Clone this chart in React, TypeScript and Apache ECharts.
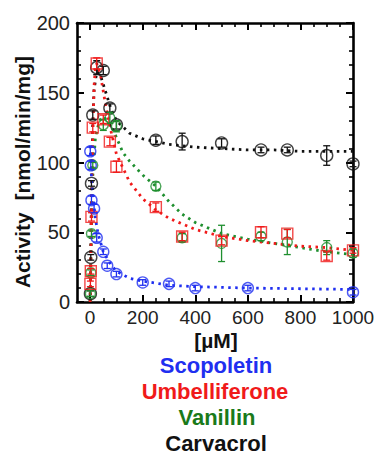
import React, { useEffect, useRef } from "react";
import * as echarts from "echarts";

// ---- tick values ----
const xMajorTicks = [0, 200, 400, 600, 800, 1000];
const yMajorTicks = [0, 50, 100, 150, 200];

// ---- legend / axis texts ----
const yTitle = "Activity  [nmol/min/mg]";
const xTitle = "[µM]";
const names = ["Scopoletin", "Umbelliferone", "Vanillin", "Carvacrol"];

// ---- Scopoletin (blue) ----
const blueX = [0.5, 2.5, 5, 15, 25, 50, 65, 100, 200, 300, 400, 600, 1000];
const blueY = [108, 98, 73, 67, 46, 36, 26, 20, 14, 13, 10, 10, 7];
const blueErr = [3, 3, 3, 3, 3, 2, 2, 2, 2, 2, 2, 2, 2];
const blueFitX = [0, 2, 5, 10, 20, 30, 50, 75, 100, 150, 200, 300, 400, 600, 800, 1000];
const blueFitY = [112, 102, 90, 77, 60, 49, 36, 28, 22, 17, 15, 12, 11, 10, 9.5, 9];

// ---- Umbelliferone (red) ----
const redX = [1, 2.5, 5, 10, 25, 50, 75, 100, 250, 350, 500, 650, 750, 900, 1000];
const redY = [13, 22, 61, 125, 171, 131, 115, 97, 68, 47, 44, 50, 49, 33, 37];
const redErr = [2, 2, 3, 3, 4, 3, 3, 4, 3, 3, 3, 4, 3, 3, 2];
const redFitX = [0, 2.5, 5, 10, 15, 20, 25, 40, 60, 80, 100, 150, 200, 250, 300, 400, 500, 600, 700, 800, 900, 1000];
const redFitY = [0, 30, 62, 120, 155, 168, 171, 162, 140, 122, 106, 86, 74, 66, 60, 52, 47, 44, 42, 40, 39, 37];

// ---- Vanillin (green) ----
const greenX = [1, 2.5, 5, 10, 50, 75, 100, 250, 350, 500, 650, 750, 900, 1000];
const greenY = [6, 21, 49, 98, 127, 132, 126, 83, 46, 42, 47, 43, 39, 35];
const greenErr = [2, 2, 2, 2, 4, 4, 4, 3, 3, 13, 3, 9, 5, 3];
const greenFitX = [0, 2.5, 5, 10, 20, 35, 50, 75, 100, 125, 150, 200, 250, 300, 350, 400, 500, 600, 700, 800, 900, 1000];
const greenFitY = [0, 25, 50, 90, 118, 130, 133, 128, 118, 107, 101, 91, 83, 72, 63, 57, 49, 45, 42, 39, 36, 34];

// ---- Carvacrol (black) ----
const blackX = [1, 2.5, 5, 10, 25, 50, 75, 100, 250, 350, 500, 650, 750, 900, 1000];
const blackY = [6, 32, 85, 134, 168, 166, 139, 127, 116, 115, 114, 109, 109, 105, 99];
const blackErr = [2, 2, 2, 3, 5, 3, 3, 3, 3, 6, 3, 2, 2, 7, 2];
const blackFitX = [0, 2.5, 5, 10, 15, 25, 40, 60, 80, 100, 150, 200, 300, 400, 500, 600, 700, 800, 900, 1000];
const blackFitY = [0, 40, 80, 130, 152, 165, 162, 150, 138, 130, 121, 117, 113, 111, 110, 109, 109, 108, 108, 108];

const BLUE = "#1f2ff0";
const RED = "#f01a1a";
const GREEN = "#1f8f2f";
const GREEN_TXT = "#1a7a1a";
const BLACK = "#111111";

const zip2 = (a: number[], b: number[]) => a.map((v, i) => [v, b[i]]);
const zip3 = (a: number[], b: number[], c: number[]) => a.map((v, i) => [v, b[i], c[i]]);

function fitSeries(xs: number[], ys: number[], color: string) {
  return {
    type: "line",
    data: zip2(xs, ys),
    showSymbol: false,
    symbol: "none",
    lineStyle: { color, width: 2.8, type: [2.5, 4.5] },
    z: 2,
    silent: true,
  };
}

function markerSeries(xs: number[], ys: number[], color: string, symbol: string, size: number) {
  return {
    type: "scatter",
    data: zip2(xs, ys),
    symbol,
    symbolSize: size,
    itemStyle: { color: "rgba(255,255,255,0)", borderColor: color, borderWidth: 1.4 },
    z: 4,
  };
}

function errSeries(xs: number[], ys: number[], es: number[], color: string) {
  return {
    type: "custom",
    data: zip3(xs, ys, es),
    z: 5,
    renderItem: (params: any, api: any) => {
      const x = api.value(0);
      const y = api.value(1);
      const e = api.value(2);
      const top = api.coord([x, y + e]);
      const bot = api.coord([x, y - e]);
      const cw = 3.5;
      const st = { stroke: color, lineWidth: 1.3 };
      return {
        type: "group",
        children: [
          { type: "line", shape: { x1: top[0], y1: top[1], x2: bot[0], y2: bot[1] }, style: st },
          { type: "line", shape: { x1: top[0] - cw, y1: top[1], x2: top[0] + cw, y2: top[1] }, style: st },
          { type: "line", shape: { x1: bot[0] - cw, y1: bot[1], x2: bot[0] + cw, y2: bot[1] }, style: st },
        ],
      };
    },
  };
}

const FONT = '"Liberation Sans", Arial, sans-serif';

export default function App() {
  const ref = useRef<HTMLDivElement>(null);
  useEffect(() => {
    if (!ref.current) return;
    const chart = echarts.init(ref.current, undefined, { renderer: "svg" });
    const xMinor: number[] = [];
    for (let v = 50; v < 1000; v += 50) if (v % 200 !== 0) xMinor.push(v);
    const axisLineStyle = { color: "#000", width: 2.6 };
    const baseX = {
      type: "value",
      min: -50,
      max: 1000,
      splitLine: { show: false },
    };
    const baseY = {
      type: "value",
      min: 0,
      max: 200,
      splitLine: { show: false },
    };
    const option: any = {
      animation: false,
      grid: { left: 77, right: 27, top: 23, bottom: 152, containLabel: false },
      xAxis: [
        {
          ...baseX,
          position: "bottom",
          axisLine: { show: true, lineStyle: axisLineStyle, onZero: false },
          axisTick: { show: true, inside: true, length: 7, lineStyle: { color: "#000", width: 2 }, customValues: xMajorTicks },
          axisLabel: {
            show: true,
            customValues: xMajorTicks,
            formatter: (v: number) => String(v),
            fontSize: 19,
            color: "#222",
            margin: 6,
            fontFamily: FONT,
          },
        },
        {
          ...baseX,
          position: "bottom",
          axisLine: { show: false, onZero: false },
          axisTick: { show: true, inside: true, length: 4, lineStyle: { color: "#000", width: 1.6 }, customValues: xMinor },
          axisLabel: { show: false },
        },
        {
          ...baseX,
          position: "top",
          axisLine: { show: true, lineStyle: axisLineStyle, onZero: false },
          axisTick: { show: true, inside: true, length: 7, lineStyle: { color: "#000", width: 2 }, customValues: xMajorTicks },
          axisLabel: { show: false },
        },
        {
          ...baseX,
          position: "top",
          axisLine: { show: false, onZero: false },
          axisTick: { show: true, inside: true, length: 4, lineStyle: { color: "#000", width: 1.6 }, customValues: xMinor },
          axisLabel: { show: false },
        },
      ],
      yAxis: [
        {
          ...baseY,
          position: "left",
          interval: 50,
          axisLine: { show: true, lineStyle: axisLineStyle, onZero: false },
          axisTick: { show: true, inside: true, length: 7, lineStyle: { color: "#000", width: 2 } },
          axisLabel: {
            show: true,
            customValues: yMajorTicks,
            formatter: (v: number) => String(v),
            fontSize: 20,
            color: "#222",
            margin: 7,
            fontFamily: FONT,
          },
        },
        {
          ...baseY,
          position: "left",
          interval: 10,
          axisLine: { show: false, onZero: false },
          axisTick: { show: true, inside: true, length: 4, lineStyle: { color: "#000", width: 1.6 } },
          axisLabel: { show: false },
        },
        {
          ...baseY,
          position: "right",
          interval: 50,
          axisLine: { show: true, lineStyle: axisLineStyle, onZero: false },
          axisTick: { show: true, inside: true, length: 7, lineStyle: { color: "#000", width: 2 } },
          axisLabel: { show: false },
        },
        {
          ...baseY,
          position: "right",
          interval: 10,
          axisLine: { show: false, onZero: false },
          axisTick: { show: true, inside: true, length: 4, lineStyle: { color: "#000", width: 1.6 } },
          axisLabel: { show: false },
        },
      ],
      series: [
        fitSeries(blackFitX, blackFitY, BLACK),
        fitSeries(greenFitX, greenFitY, GREEN),
        fitSeries(redFitX, redFitY, RED),
        fitSeries(blueFitX, blueFitY, BLUE),
        errSeries(blackX, blackY, blackErr, BLACK),
        errSeries(greenX, greenY, greenErr, GREEN),
        errSeries(redX, redY, redErr, RED),
        errSeries(blueX, blueY, blueErr, BLUE),
        markerSeries(blackX, blackY, BLACK, "circle", 12),
        markerSeries(greenX, greenY, GREEN, "circle", 10),
        markerSeries(redX, redY, RED, "rect", 11),
        markerSeries(blueX, blueY, BLUE, "circle", 11),
      ],
      graphic: [
        {
          type: "text",
          x: 22,
          y: 172,
          rotation: Math.PI / 2,
          style: { text: yTitle, font: `bold 21px ${FONT}`, fill: "#111", textAlign: "center", textVerticalAlign: "middle" },
        },
        {
          type: "text",
          x: 216,
          y: 340,
          style: { text: xTitle, font: `bold 21px ${FONT}`, fill: "#111", textAlign: "center", textVerticalAlign: "middle" },
        },
        {
          type: "text",
          x: 216,
          y: 365,
          style: { text: names[0], font: `bold 22px ${FONT}`, fill: BLUE, textAlign: "center", textVerticalAlign: "middle" },
        },
        {
          type: "text",
          x: 215,
          y: 391,
          style: { text: names[1], font: `bold 22px ${FONT}`, fill: RED, textAlign: "center", textVerticalAlign: "middle" },
        },
        {
          type: "text",
          x: 217,
          y: 417,
          style: { text: names[2], font: `bold 22px ${FONT}`, fill: GREEN_TXT, textAlign: "center", textVerticalAlign: "middle" },
        },
        {
          type: "text",
          x: 216,
          y: 443,
          style: { text: names[3], font: `bold 22px ${FONT}`, fill: "#111", textAlign: "center", textVerticalAlign: "middle" },
        },
      ],
    };
    chart.setOption(option);
    return () => chart.dispose();
  }, []);
  return (
    <div
      ref={ref}
      style={{ position: "absolute", left: 0, top: 0, width: 380, height: 454, background: "#fff" }}
    />
  );
}
